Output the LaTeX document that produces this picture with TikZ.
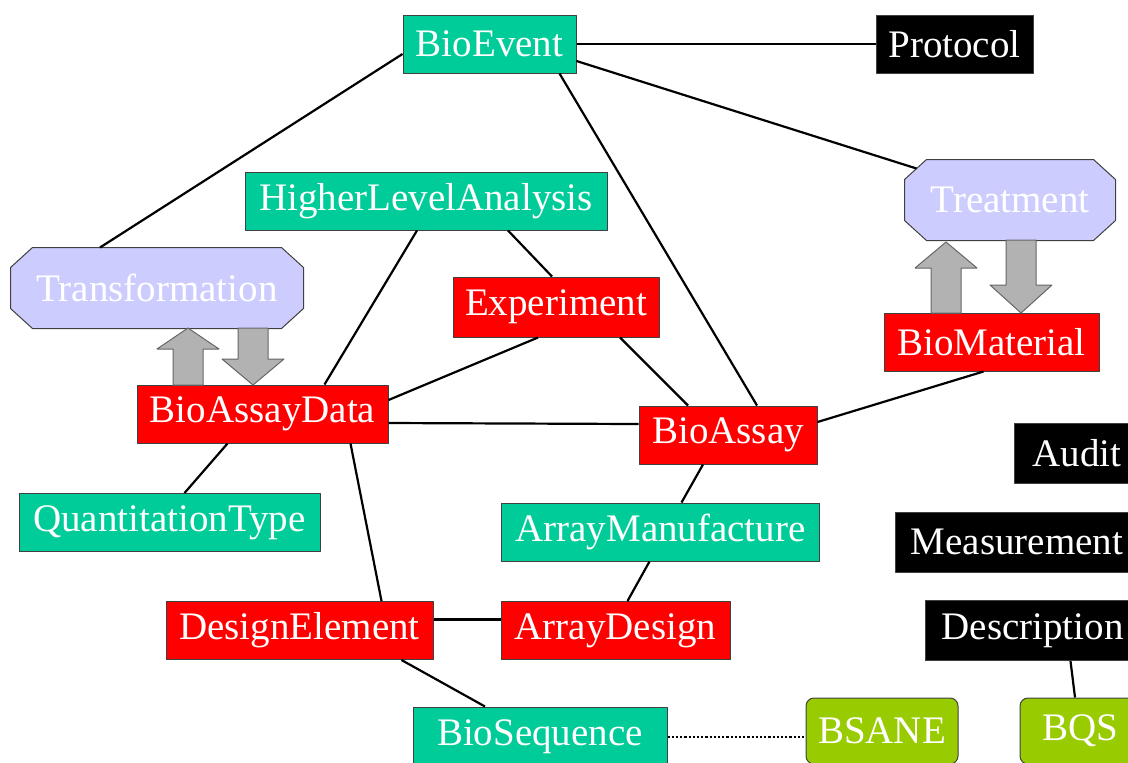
\documentclass[tikz,border=0pt]{standalone}
\usepackage{fontspec}
\setmainfont{Liberation Serif}
\usetikzlibrary{backgrounds}
\definecolor{mgteal}{HTML}{00CC99}
\definecolor{mgred}{HTML}{FF0000}
\definecolor{mglav}{HTML}{CCCCFF}
\definecolor{mglime}{HTML}{99CC00}
\definecolor{mggray}{HTML}{B2B2B2}
\tikzset{
  box/.style={draw=black!75, line width=0.5pt, text=white, inner xsep=0pt, inner ysep=0pt,
    minimum height=29pt, font=\fontsize{19.5}{22}\selectfont},
  teal/.style={box, fill=mgteal},
  redbox/.style={box, fill=mgred},
  blackbox/.style={box, fill=black},
  limebox/.style={box, fill=mglime, rounded corners=4pt},
  octa/.style={box, draw=none, minimum height=40pt},
  octaline/.style={fill=mglav, draw=black!75, line width=0.5pt},
  link/.style={line width=1.1pt},
  fatarrow/.style={fill=mggray, draw=black!60, line width=0.5pt},
}
\begin{document}
\begin{tikzpicture}[x=0.5pt,y=-0.5pt,line join=round]
\useasboundingbox (0,0) rectangle (1128,762);
\clip (0,0) rectangle (1128,762);
% classes
\node[teal, minimum width=86.5pt] (bioevent) at (489.5,44) {BioEvent};
\node[blackbox, minimum width=78.5pt] (protocol) at (954.5,44) {Protocol};
\node[teal, minimum width=181pt] (hla) at (426,201) {HigherLevelAnalysis};
\node[octa, minimum width=105pt] (treatment) at (1010,200) {Treatment};
\node[octa, minimum width=146pt] (transformation) at (157,288) {Transformation};
\node[redbox, minimum width=103pt, minimum height=30pt] (experiment) at (556,307) {Experiment};
\node[redbox, minimum width=107.5pt] (biomaterial) at (991.5,342) {BioMaterial};
\node[redbox, minimum width=125.5pt] (bad) at (262.5,414) {BioAssayData};
\node[redbox, minimum width=89pt] (bioassay) at (728,435) {BioAssay};
\node[blackbox, minimum width=63pt, minimum height=30pt] (audit) at (1077,453) {Audit};
\node[teal, minimum width=150.5pt] (qt) at (169.5,522.5) {QuantitationType};
\node[teal, minimum width=159pt] (am) at (660.5,532) {ArrayManufacture};
\node[blackbox, minimum width=122pt, minimum height=30pt] (measurement) at (1017,542) {Measurement};
\node[redbox, minimum width=133.5pt] (de) at (299.5,630.5) {DesignElement};
\node[redbox, minimum width=114.5pt] (ad) at (615.5,630.5) {ArrayDesign};
\node[blackbox, minimum width=107.5pt, minimum height=30pt] (description) at (1032.5,630.5) {Description};
\node[teal, minimum width=127pt, minimum height=30pt] (bioseq) at (540,737) {BioSequence};
\node[limebox, minimum width=76pt, minimum height=33pt] (bsane) at (882,731) {BSANE};
\node[limebox, minimum width=60pt, minimum height=33pt] (bqs) at (1080,731) {BQS};
% octagon outlines behind the text
\begin{scope}[on background layer]
\foreach \n in {transformation,treatment}{
  \draw[octaline] ([shift={(22,0)}]\n.north west) -- ([shift={(-22,0)}]\n.north east)
    -- ([shift={(0,20)}]\n.north east) -- ([shift={(0,-20)}]\n.south east)
    -- ([shift={(-22,0)}]\n.south east) -- ([shift={(22,0)}]\n.south west)
    -- ([shift={(0,-20)}]\n.south west) -- ([shift={(0,20)}]\n.north west) -- cycle;}
\end{scope}
% associations
\draw[link] (bioevent.east) -- (protocol.west);
\draw[link] ([shift={(0,10)}]bioevent.west) -- ([shift={(-57,0)}]transformation.north);
\draw[link] ([shift={(0,17)}]bioevent.east) -- ([shift={(12,9)}]treatment.north west);
\draw[link] ([shift={(70,0)}]bioevent.south) -- ([shift={(29,0)}]bioassay.north);
\draw[link] ([shift={(-9,0)}]hla.south) -- ([shift={(62,0)}]bad.north);
\draw[link] ([shift={(82,0)}]hla.south) -- ([shift={(-4,0)}]experiment.north);
\draw[link] ([shift={(-18,0)}]experiment.south) -- ([shift={(0,-14)}]bad.east);
\draw[link] ([shift={(64,0)}]experiment.south) -- ([shift={(-40,0)}]bioassay.north);
\draw[link] ([shift={(0,9)}]bad.east) -- ([shift={(0,-11)}]bioassay.west);
\draw[link] ([shift={(-8,0)}]biomaterial.south) -- ([shift={(0,-13)}]bioassay.east);
\draw[link] ([shift={(-35,0)}]bad.south) -- ([shift={(15,0)}]qt.north);
\draw[link] ([shift={(88,0)}]bad.south) -- ([shift={(82,0)}]de.north);
\draw[link] ([shift={(-25,0)}]bioassay.south) -- ([shift={(21,0)}]am.north);
\draw[link] ([shift={(-11,0)}]am.south) -- ([shift={(12,0)}]ad.north);
\draw[link] ([shift={(0,-11)}]de.east) -- ([shift={(0,-11)}]ad.west);
\draw[link] ([shift={(102,0)}]de.south) -- ([shift={(-55,0)}]bioseq.north);
\draw[link, densely dotted] (bioseq.east) -- (bioseq.east -| bsane.west);
\draw[link] ([shift={(38,0)}]description.south) -- ([shift={(-5,0)}]bqs.north);
% fat arrows
\foreach \cx/\ya/\yb/\yc in {188/328/349/385, 946/242/268/313}{
  \draw[fatarrow] (\cx-15,\yc) -- (\cx-15,\yb) -- (\cx-31,\yb) -- (\cx,\ya) -- (\cx+31,\yb) -- (\cx+15,\yb) -- (\cx+15,\yc) -- cycle;}
\foreach \cx/\ya/\yb/\yc in {253/328/359/385, 1021/240/285/313}{
  \draw[fatarrow] (\cx-15,\ya) -- (\cx-15,\yb) -- (\cx-31,\yb) -- (\cx,\yc) -- (\cx+31,\yb) -- (\cx+15,\yb) -- (\cx+15,\ya) -- cycle;}
\end{tikzpicture}
\end{document}
